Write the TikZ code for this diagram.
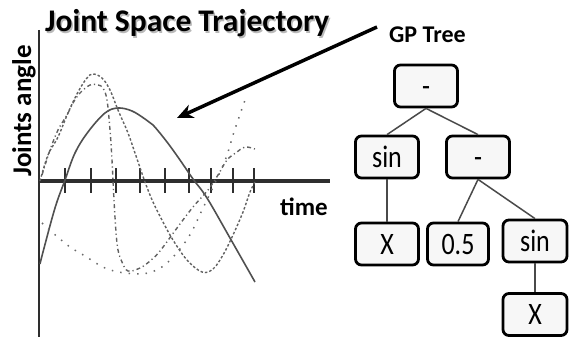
\documentclass[tikz,border=0pt]{standalone}
\usepackage{fontspec}
\setmainfont{Carlito}
\usetikzlibrary{arrows.meta}
\definecolor{curvegray}{HTML}{505050}
\definecolor{axisgray}{HTML}{2E2E2E}
\definecolor{edgegray}{HTML}{4A4A4A}
\definecolor{boxfill}{HTML}{F7F7F7}
\newcommand\talltext[1]{\scalebox{1}[1.2]{\vphantom{X}#1}}
\tikzset{
  axisline/.style={draw=axisgray, line width=2pt},
  timeaxis/.style={draw=axisgray, line width=3.5pt},
  tickmark/.style={draw=axisgray, line width=1.8pt},
  curvesolid/.style={draw=curvegray, line width=1.6pt},
  curvedash/.style={draw=curvegray!90, line width=1.4pt, dash pattern=on 2.5pt off 2pt},
  curvedashdot/.style={draw=curvegray!90, line width=1.4pt, dash pattern=on 4pt off 3pt on 1.2pt off 3pt},
  curvedots/.style={draw=curvegray!85, line width=1.5pt, dash pattern=on 1.5pt off 7pt},
  treebox/.style={draw=black, line width=2.8pt, rounded corners=6pt, fill=boxfill,
    minimum width=63pt, minimum height=42pt, inner sep=0pt,
    font=\fontsize{26}{26}\selectfont},
  treeedge/.style={draw=edgegray, line width=1.5pt},
  pointer/.style={draw=black, line width=3.5pt,
    -{Stealth[length=16pt, width=14pt, inset=5pt]}},
  heading/.style={inner sep=0pt, font=\fontsize{31.5}{32}\selectfont\bfseries},
  axislabel/.style={inner sep=0pt, font=\fontsize{25}{26}\selectfont\bfseries},
}
\begin{document}
\begin{tikzpicture}[x=1pt, y=-1pt]
\useasboundingbox (0,0) rectangle (569,337);

% title with a soft drop shadow
\node[heading, text=gray!55, anchor=base west] at (46.5,33.5) {Joint Space Trajectory};
\node[heading, anchor=base west] (title) at (45,32) {Joint Space Trajectory};

% axes
\draw[axisline] (39,30) -- (39,337);
\draw[timeaxis] (39,181) -- (330,181);
\foreach \tx in {65,91,116,140,165,189,211,233,254}
  \draw[tickmark] (\tx,168) -- (\tx,193);

\node[axislabel, font=\fontsize{27}{28}\selectfont\bfseries, rotate=90, anchor=base west] (ylabel) at (31,177) {Joints angle};
\node[axislabel, anchor=base west] (xlabel) at (280,215) {time};

% joint trajectories
\draw[curvesolid] plot[smooth, tension=0.6] coordinates {
  (40,264) (43,252) (55,208) (65,180) (75,153) (88,132) (105,113) (118,108)
  (132,111) (145,119) (153,125) (167,142) (180,160) (193,179) (207,198)
  (230,238) (255,282)};
\draw[curvedash] plot[smooth, tension=0.6] coordinates {
  (40,181) (48,155) (58,137) (68,113) (78,92) (87,78) (93,74) (102,78)
  (110,90) (118,110) (128,133) (135,153) (145,182) (153,202) (163,222)
  (173,240) (187,260) (202,272) (213,269) (223,255) (233,235) (243,212)
  (250,192) (255,182)};
\draw[curvedashdot] plot[smooth, tension=0.6] coordinates {
  (42,175) (50,150) (58,130) (67,115) (73,103) (80,93) (90,85) (98,85)
  (103,88) (107,100) (110,130) (112,160) (114,200) (116,232) (118,250)
  (122,262) (128,271) (140,268) (150,261) (160,251) (177,228) (193,207)
  (208,190) (218,175) (227,160) (237,152) (245,147) (255,149)};
\draw[curvedots] plot[smooth, tension=0.6] coordinates {
  (42,223) (53,233) (70,247) (85,256) (105,268) (125,273) (148,273)
  (167,263) (188,238) (203,208) (215,183) (226,158) (234,132) (245,100)};

% expression tree
\node[inner sep=0pt, anchor=base west, font=\fontsize{24}{24}\selectfont\bfseries] (gplabel) at (389,42) {GP Tree};
\coordinate (arrowstart) at (377,27);
\coordinate (arrowtip) at (177,118);
\draw[pointer] (arrowstart) -- (arrowtip);

\node[treebox] (root)   at (426,86)  {\talltext{-}};
\node[treebox] (sinL)   at (387,157) {\talltext{sin}};
\node[treebox] (minusR) at (478,157) {\talltext{-}};
\node[treebox] (xL)     at (387,244) {\talltext{X}};
\node[treebox, minimum width=61pt] (half) at (458,244) {\talltext{0.5}};
\node[treebox, minimum width=64pt] (sinR) at (535,241) {\talltext{sin}};
\node[treebox, minimum width=64pt] (xB)   at (535,314.5) {\talltext{X}};

\draw[treeedge] (root.south) -- (sinL.north);
\draw[treeedge] (root.south) -- (minusR.north);
\draw[treeedge] (sinL.south) -- (xL.north);
\draw[treeedge] (minusR.south) -- (half.north);
\draw[treeedge] (minusR.south) -- (sinR.north);
\draw[treeedge] (sinR.south) -- (xB.north);
\end{tikzpicture}
\end{document}
